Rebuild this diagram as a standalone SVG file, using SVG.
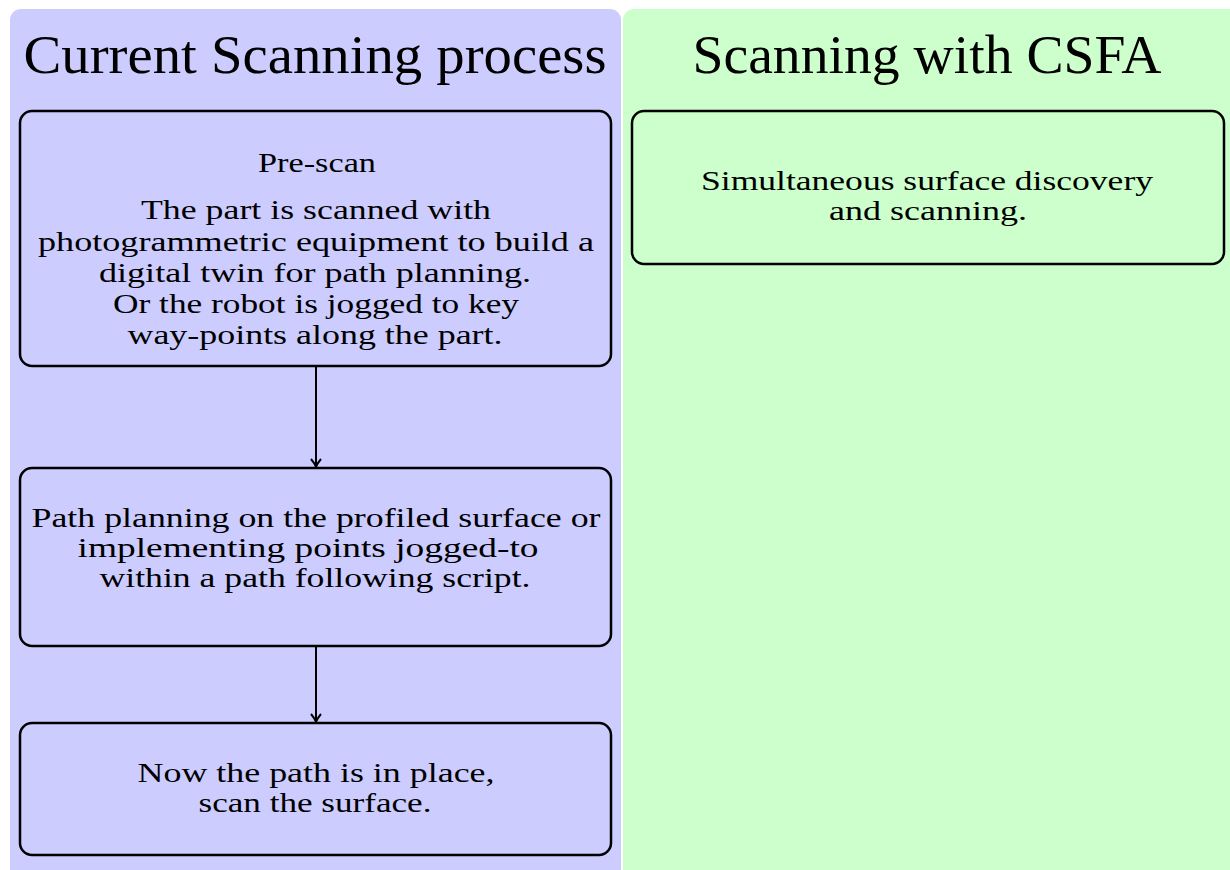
<svg xmlns="http://www.w3.org/2000/svg" width="1230" height="870" viewBox="0 0 1230 870">
<style>
.title{font-family:"Liberation Serif","DejaVu Serif",serif;font-size:54px;fill:#000;text-anchor:middle}
.body{font-family:"Liberation Serif","DejaVu Serif",serif;font-size:28px;fill:#000;text-anchor:middle}
.box{stroke:#000;stroke-width:2.5;rx:12}
.blue{fill:#ccccff}
.green{fill:#ccffcc}
.conn{stroke:#000;stroke-width:2;fill:none}
</style>
<defs>
<marker id="arr" viewBox="0 0 12 12" refX="10" refY="6" markerWidth="12" markerHeight="12" markerUnits="userSpaceOnUse" orient="auto">
<path d="M2,1 Q6,4.5 10,6 Q6,7.5 2,11" fill="none" stroke="#000" stroke-width="2"/>
</marker>
</defs>
<g id="panel-current">
<rect x="10" y="9" width="611" height="880" rx="11" class="blue"/>
<text class="title" x="315" y="73" textLength="583" lengthAdjust="spacingAndGlyphs">Current Scanning process</text>
</g>
<g id="panel-csfa">
<rect x="623" y="9" width="620" height="880" rx="11" class="green"/>
<text class="title" x="927" y="73" textLength="469" lengthAdjust="spacingAndGlyphs">Scanning with CSFA</text>
</g>
<g id="prescan">
<rect x="20" y="111" width="591" height="255" class="box blue"/>
<text class="body" x="317" y="172" textLength="118" lengthAdjust="spacingAndGlyphs">Pre-scan</text>
<text class="body" x="316" y="219" textLength="350" lengthAdjust="spacingAndGlyphs">The part is scanned with</text>
<text class="body" x="316" y="251" textLength="556" lengthAdjust="spacingAndGlyphs">photogrammetric equipment to build a</text>
<text class="body" x="315" y="282" textLength="432" lengthAdjust="spacingAndGlyphs">digital twin for path planning.</text>
<text class="body" x="316" y="313" textLength="406" lengthAdjust="spacingAndGlyphs">Or the robot is jogged to key</text>
<text class="body" x="315" y="344" textLength="375" lengthAdjust="spacingAndGlyphs">way-points along the part.</text>
</g>
<g id="planning">
<rect x="20" y="468" width="591" height="178" class="box blue"/>
<text class="body" x="316" y="527" textLength="569" lengthAdjust="spacingAndGlyphs">Path planning on the profiled surface or</text>
<text class="body" x="308" y="557" textLength="461" lengthAdjust="spacingAndGlyphs">implementing points jogged-to</text>
<text class="body" x="315" y="587" textLength="431" lengthAdjust="spacingAndGlyphs">within a path following script.</text>
</g>
<g id="scan">
<rect x="20" y="723" width="591" height="132" class="box blue"/>
<text class="body" x="316" y="782" textLength="357" lengthAdjust="spacingAndGlyphs">Now the path is in place,</text>
<text class="body" x="315" y="812" textLength="233" lengthAdjust="spacingAndGlyphs">scan the surface.</text>
</g>
<g id="csfa">
<rect x="632" y="111" width="592" height="153" class="box green"/>
<text class="body" x="927" y="190" textLength="452" lengthAdjust="spacingAndGlyphs">Simultaneous surface discovery</text>
<text class="body" x="928" y="220" textLength="198" lengthAdjust="spacingAndGlyphs">and scanning.</text>
</g>
<g id="connectors">
<line x1="316" y1="367" x2="316" y2="467" class="conn" marker-end="url(#arr)"/>
<line x1="316" y1="647" x2="316" y2="722" class="conn" marker-end="url(#arr)"/>
</g>
</svg>
